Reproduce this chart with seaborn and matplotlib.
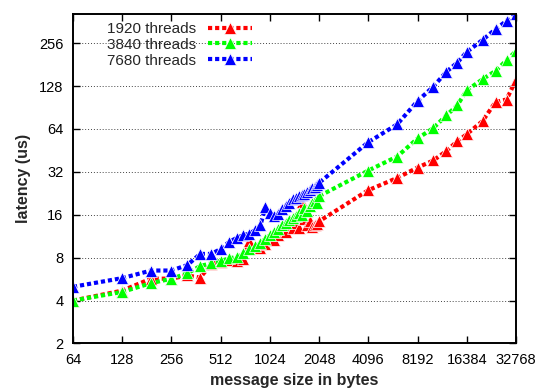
import matplotlib
matplotlib.use("Agg")
import matplotlib.pyplot as plt
import matplotlib.ticker as mticker
import pandas as pd
import seaborn as sns

# message sizes (bytes)
sizes = [64, 128, 192, 256, 320, 384, 448, 512, 576, 640, 704, 768, 832, 896,
         960, 1024, 1088, 1152, 1216, 1280, 1344, 1408, 1472, 1536, 1600, 1664,
         1728, 1792, 1856, 1920, 1984, 2048, 4096, 6144, 8192, 10240, 12288,
         14336, 16384, 20480, 24576, 28672, 32768]

# latency (us) per thread count
lat_1920 = [4.0, 4.7, 5.7, 5.7, 6.0, 5.8, 7.2, 7.5, 7.7, 7.6, 7.8, 10.5, 9.5,
            9.4, 10.0, 11.0, 10.6, 11.5, 12.5, 12.2, 13.5, 12.9, 14.0, 13.0,
            19.8, 15.0, 13.6, 14.5, 13.2, 13.6, 13.8, 14.4, 23.8, 29.0, 34.3,
            38.5, 44.8, 52.5, 58.8, 72.8, 99.0, 103.0, 141.0]
lat_3840 = [4.0, 4.6, 5.3, 5.7, 6.2, 7.0, 7.3, 7.6, 7.9, 8.1, 8.6, 9.2, 9.6,
            10.2, 10.8, 11.5, 12.2, 12.8, 13.6, 14.0, 14.8, 15.3, 15.8, 16.4,
            16.0, 17.8, 17.0, 18.5, 19.3, 20.0, 19.5, 21.6, 32.7, 41.0, 54.9,
            65.0, 79.7, 93.7, 119.5, 143.0, 163.6, 194.0, 225.0]
lat_7680 = [5.0, 5.75, 6.5, 6.5, 7.1, 8.5, 8.5, 9.2, 10.3, 11.0, 11.5, 11.8,
            12.5, 13.5, 18.0, 16.5, 15.8, 16.2, 17.5, 18.5, 19.5, 20.5, 21.0,
            21.5, 22.0, 22.5, 23.0, 23.8, 24.5, 25.0, 25.8, 26.8, 51.7, 68.9,
            100.5, 127.0, 161.0, 187.0, 222.0, 270.0, 321.0, 367.0, 410.0]

labels = ["1920 threads", "3840 threads", "7680 threads"]
colors = ["#ff0000", "#00ff00", "#0000ff"]
x_ticks = [64, 128, 256, 512, 1024, 2048, 4096, 8192, 16384, 32768]
y_ticks = [2, 4, 8, 16, 32, 64, 128, 256]

df = pd.concat([
    pd.DataFrame({"size": sizes, "latency": vals, "threads": lab})
    for vals, lab in zip([lat_1920, lat_3840, lat_7680], labels)
])

sns.set_style("ticks")
plt.rcParams["font.family"] = ["Liberation Sans", "DejaVu Sans"]

fig = plt.figure(figsize=(5.38, 3.91), dpi=100)
ax = fig.add_axes([0.1357, 0.1215, 0.8234, 0.8427])

sns.lineplot(data=df, x="size", y="latency", hue="threads", hue_order=labels,
             palette=colors, marker="^", markersize=8.5, markeredgewidth=0.5,
             linestyle=(0, (1, 0.7)), linewidth=3, errorbar=None,
             legend=False, ax=ax)

ax.set_xscale("log", base=2)
ax.set_yscale("log", base=2)
ax.set_xlim(64, 32768)
ax.set_ylim(2, 410)
ax.xaxis.set_major_locator(mticker.FixedLocator(x_ticks))
ax.yaxis.set_major_locator(mticker.FixedLocator(y_ticks))
ax.xaxis.set_major_formatter(mticker.FuncFormatter(lambda v, p: f"{int(round(v))}"))
ax.yaxis.set_major_formatter(mticker.FuncFormatter(lambda v, p: f"{int(round(v))}"))
ax.xaxis.set_minor_locator(mticker.NullLocator())
ax.yaxis.set_minor_locator(mticker.NullLocator())

ax.tick_params(direction="in", length=5, width=1, top=True, right=True,
               labelsize=10.5, pad=7, colors="black")
ax.yaxis.grid(True, linestyle=(0, (1, 2)), color="#444444", linewidth=0.7)
for s in ax.spines.values():
    s.set_linewidth(1.4)
    s.set_color("black")

ax.set_xlabel("message size in bytes", fontsize=11.5, fontweight="bold", labelpad=4)
ax.set_ylabel("latency (us)", fontsize=11.5, fontweight="bold", labelpad=6)

handles = ax.get_lines()[:3]
ax.legend(handles, labels, loc="upper left", bbox_to_anchor=(0.066, 0.99),
          markerfirst=False, frameon=False, fontsize=11, handlelength=2.9,
          handletextpad=0.8, labelspacing=0.12, borderpad=0.3,
          borderaxespad=0)

fig.savefig("out.png", dpi=100)
